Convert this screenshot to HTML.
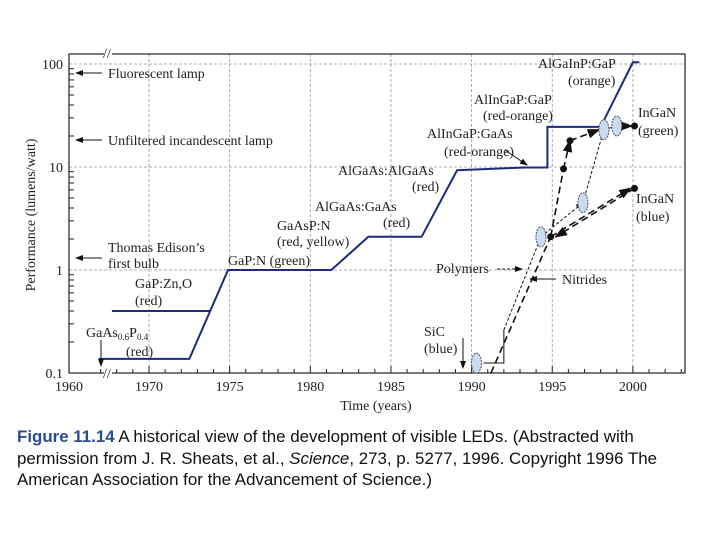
<!DOCTYPE html>
<html><head><meta charset="utf-8"><style>
body{margin:0;width:720px;height:540px;background:#fff;overflow:hidden}
svg{position:absolute;left:0;top:0}
text{font-family:"Liberation Serif",serif;font-size:14px;fill:#222}
.cap{position:absolute;left:17px;top:426px;width:700px;white-space:nowrap;font-family:"Liberation Sans",sans-serif;font-size:16.9px;line-height:21.5px;color:#111}
.cap b{color:#2a4d8f}
</style></head><body>
<svg id="chart" width="720" height="540"></svg>
<div class="cap"><b>Figure 11.14</b> A historical view of the development of visible LEDs. (Abstracted with<br>permission from J. R. Sheats, et al., <i>Science</i>, 273, p. 5277, 1996. Copyright 1996 The<br>American Association for the Advancement of Science.)</div>
<script>
const xTicks=[1960,1970,1975,1980,1985,1990,1995,2000];
const yTicks=[0.1,1,10,100];
const yTickLabels=["0.1","1","10","100"];
const mainYears=[1966.9,1972.5,1974.9,1981.3,1983.6,1986.9,1989.1,1993.3,1994.7,1994.7,1998.0,2000.0,2000.4];
const mainValues=[0.137,0.137,1,1,2.1,2.1,9.3,9.9,9.9,24.5,24.5,104,104];
const gapYears=[1967.7,1973.8];
const gapValues=[0.4,0.4];
const ellipseYears=[1990.3,1994.3,1996.9,1998.2,1999.0];
const ellipseValues=[0.125,2.1,4.5,23,25];
const dotYears=[1994.9,1995.7,1996.1,2000.1,2000.1];
const dotValues=[2.1,9.6,18,25,6.2];

const X0=149,PX=16.13,L=69,R=685,T=54,B=373;
function x(y){return y<1965?L+(y-1960)*(X0-L)/10:X0+(y-1970)*PX;}
function y(v){return 270-Math.log10(v)*103;}
const svg=document.getElementById('chart');const NS='http://www.w3.org/2000/svg';
function mk(t,a,name){const e=document.createElementNS(NS,t);for(const k in a)e.setAttribute(k,a[k]);


svg.appendChild(e);return e;}
function txt(s,X,Y,name,extra){const e=mk('text',Object.assign({x:X,y:Y},extra||{}),name);e.textContent=s;return e;}
const d=document.createElementNS(NS,'defs');d.innerHTML='<marker id="ah" markerWidth="8" markerHeight="6" refX="7" refY="3" orient="auto"><path d="M0,0L8,3L0,6z" fill="#111"/></marker>';svg.appendChild(d);
xTicks.slice(2).forEach(t=>mk('line',{x1:x(t),x2:x(t),y1:T,y2:B,stroke:'#999','stroke-width':0.8,'stroke-dasharray':'3,2'},'grid-x'));
mk('line',{x1:x(1970),x2:x(1970),y1:T,y2:B,stroke:'#999','stroke-width':0.8,'stroke-dasharray':'3,2'},'grid-x');
yTicks.slice(1).forEach(v=>mk('line',{x1:L,x2:R,y1:y(v),y2:y(v),stroke:'#999','stroke-width':0.8,'stroke-dasharray':'3,2'},'grid-y'));
mk('rect',{x:L,y:T,width:R-L,height:B-T,fill:'none',stroke:'#222','stroke-width':1.2},'plot-frame');
mk('rect',{x:104,y:T-3,width:8,height:6,fill:'#fff'},'axis-break-top');
mk('rect',{x:104,y:B-3,width:8,height:6,fill:'#fff'},'axis-break-bottom');
txt('//',103,T+4,'break-mark-top',{'font-size':'11'});txt('//',103,B+5,'break-mark-bottom',{'font-size':'11'});
for(let dec=-1;dec<2;dec++)for(let m=2;m<10;m++){const v=m*Math.pow(10,dec);mk('line',{x1:L,x2:L+5,y1:y(v),y2:y(v),stroke:'#222'},'y-minor-tick');}
for(let yr=1967;yr<=2003;yr++)mk('line',{x1:x(yr),x2:x(yr),y1:B,y2:B-(yr%5==0?7:4),stroke:'#222'},'x-tick');
xTicks.forEach(t=>txt(String(t),x(t),391,'x-tick-label',{'text-anchor':'middle','font-size':'14'}));
yTicks.forEach((v,i)=>txt(yTickLabels[i],63,y(v)+5,'y-tick-label',{'text-anchor':'end','font-size':'14'}));
txt('Time (years)',376,410,'x-axis-title',{'text-anchor':'middle','font-size':'14'});
txt('Performance (lumens/watt)',35,215,'y-axis-title',{'text-anchor':'middle','font-size':'14',transform:'rotate(-90 35 215)'});
mk('polyline',{points:mainYears.map((t,i)=>x(t)+','+y(mainValues[i])).join(' '),fill:'none',stroke:'#1c2a80','stroke-width':2},'main-led-line');
mk('polyline',{points:gapYears.map((t,i)=>x(t)+','+y(gapValues[i])).join(' '),fill:'none',stroke:'#1c2a80','stroke-width':2},'gap-zno-line');
const E=ellipseYears.map((t,i)=>[x(t),y(ellipseValues[i])]);const D=dotYears.map((t,i)=>[x(t),y(dotValues[i])]);
function ln(a,b,dash,w,name,arrow){const l=mk('line',{x1:a[0],y1:a[1],x2:b[0],y2:b[1],stroke:'#111','stroke-width':w,'stroke-dasharray':dash},name);if(arrow)l.setAttribute('marker-end','url(#ah)');}
mk('polyline',{points:`${E[0][0]+7},${E[0][1]} ${x(1992)},${E[0][1]} ${x(1992)},${E[0][1]-33}`,fill:'none',stroke:'#111','stroke-width':1},'sic-polymer-step');
ln([x(1992),E[0][1]-33],E[1],'3,2',1,'polymer-path',false);
ln([x(1991.2),B],D[0],'7,4',1.6,'nitride-path',false);
ln(D[0],D[1],'7,4',1.6,'nitride-path',false);ln(D[1],D[2],'7,4',1.6,'nitride-path',true);
ln(D[2],[E[3][0]-5,E[3][1]],'7,4',1.6,'nitride-path',true);
ln(E[1],E[2],'3,2',1,'polymer-path',true);ln(E[2],E[3],'3,2',1,'polymer-path',false);
ln(E[3],E[4],'3,2',1,'polymer-path',false);ln(E[4],[D[3][0]-3,D[3][1]],'7,4',1.6,'nitride-path',true);
ln(D[0],[D[4][0]-4,D[4][1]],'7,4',1.6,'nitride-blue-path',true);ln(D[4],[D[0][0]+5,D[0][1]],'7,4',1.6,'nitride-blue-path',true);
E.forEach(p=>mk('ellipse',{cx:p[0],cy:p[1],rx:5,ry:10,fill:'#c9dcf2',stroke:'#556','stroke-width':1,'stroke-dasharray':'2,1'},'polymer-point'));
D.forEach(p=>mk('circle',{cx:p[0],cy:p[1],r:3.5,fill:'#111'},'nitride-point'));
function arr(x1,y1,x2,y2,name){const l=mk('line',{x1,y1,x2,y2,stroke:'#111','stroke-width':1},name);l.setAttribute('marker-end','url(#ah)');}
txt('Fluorescent lamp',108,78,'label-fluorescent');arr(102,73,76,73,'arrow-fluorescent');
txt('Unfiltered incandescent lamp',108,145,'label-incandescent');arr(102,140,76,140,'arrow-incandescent');
txt('Thomas Edison\u2019s',108,252,'label-edison');txt('first bulb',108,268,'label-edison-2');arr(102,258,76,258,'arrow-edison');
txt('GaP:Zn,O',135,288,'label-gapzno');txt('(red)',135,305,'label-gapzno-color');
const g=txt('',86,337,'label-gaasp');g.innerHTML='GaAs<tspan font-size="9" dy="3">0.6</tspan><tspan dy="-3">P</tspan><tspan font-size="9" dy="3">0.4</tspan>';
txt('(red)',126,356,'label-gaasp-color');arr(101,340,101,366,'arrow-gaasp');
txt('GaP:N (green)',228,265,'label-gapn');
txt('GaAsP:N',277,230,'label-gaaspn');txt('(red, yellow)',277,246,'label-gaaspn-color');
txt('AlGaAs:GaAs',315,211,'label-algaas-gaas');txt('(red)',383,227,'label-algaas-gaas-color');
txt('AlGaAs:AlGaAs',338,175,'label-algaas-algaas');txt('(red)',412,191,'label-algaas-algaas-color');
txt('AlInGaP:GaAs',427,138,'label-alingap-gaas');txt('(red-orange)',444,156,'label-alingap-gaas-color');arr(505,150,527,165,'arrow-alingap-gaas');
txt('AlInGaP:GaP',474,104,'label-alingap-gap');txt('(red-orange)',483,120,'label-alingap-gap-color');
txt('AlGaInP:GaP',538,68,'label-algainp');txt('(orange)',568,85,'label-algainp-color');
txt('InGaN',638,117,'label-ingan-green');txt('(green)',638,135,'label-ingan-green-color');
txt('InGaN',636,203,'label-ingan-blue');txt('(blue)',636,221,'label-ingan-blue-color');
txt('Polymers',436,273,'label-polymers');
const pl=mk('line',{x1:497,y1:269,x2:522,y2:269,stroke:'#111','stroke-width':1,'stroke-dasharray':'3,2'},'arrow-polymers');pl.setAttribute('marker-end','url(#ah)');
txt('Nitrides',562,284,'label-nitrides');arr(556,279,530,279,'arrow-nitrides');
txt('SiC',424,336,'label-sic');txt('(blue)',424,353,'label-sic-color');arr(463,338,463,368,'arrow-sic');
</script>
</body></html>
